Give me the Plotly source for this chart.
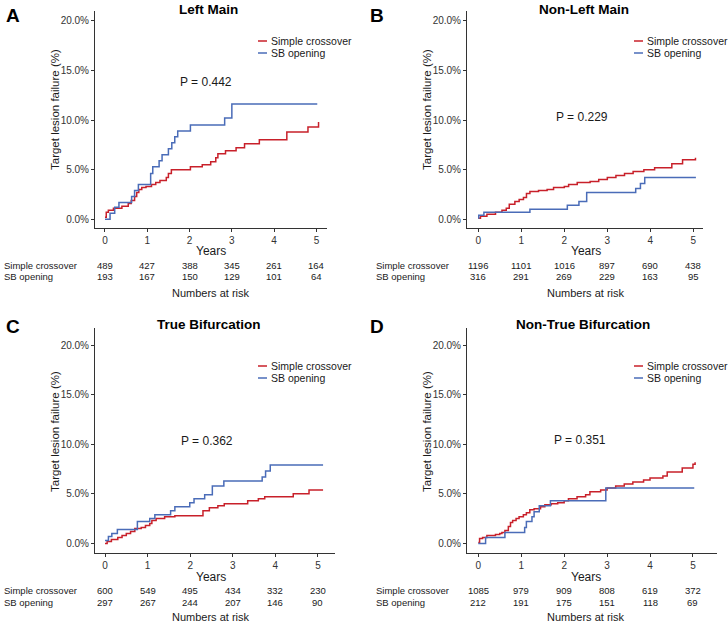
import plotly.graph_objects as go

W, H = 728, 623

# ---------------- data ----------------
panel_letters = ["A", "B", "C", "D"]
panel_titles = ["Left Main", "Non-Left Main", "True Bifurcation", "Non-True Bifurcation"]
p_values = ["P = 0.442", "P = 0.229", "P = 0.362", "P = 0.351"]
series_names = ["Simple crossover", "SB opening"]
x_ticks = [0, 1, 2, 3, 4, 5]
y_ticks = [0, 5, 10, 15, 20]
y_tick_labels = ["0.0%", "5.0%", "10.0%", "15.0%", "20.0%"]

a_sc_t = [0, 0.03, 0.08, 0.2, 0.4, 0.55, 0.62, 0.7, 0.75, 0.8, 0.87, 0.97, 1.1, 1.2, 1.3, 1.45, 1.5, 1.57,
          2.02, 2.3, 2.5, 2.62, 2.67, 2.85, 3.1, 3.3, 3.65, 4.3, 4.8, 5.05]
a_sc_v = [0.2, 0.7, 0.9, 1.1, 1.3, 1.6, 1.9, 2.3, 2.7, 3.0, 3.2, 3.3, 3.5, 3.7, 3.9, 4.2, 4.6, 5.0,
          5.3, 5.5, 5.8, 6.2, 6.6, 6.9, 7.2, 7.6, 8.0, 8.8, 9.3, 9.8]
a_sb_t = [0, 0.12, 0.23, 0.33, 0.63, 0.7, 0.79, 1.08, 1.13, 1.28, 1.35, 1.5, 1.58, 1.65, 1.72, 2.02, 2.83, 3.0, 5.02]
a_sb_v = [0, 0.6, 1.2, 1.7, 2.3, 2.9, 3.5, 4.6, 5.3, 5.9, 6.5, 7.1, 7.7, 8.3, 8.9, 9.5, 10.2, 11.6, 11.6]

b_sc_t = [0, 0.05, 0.2, 0.4, 0.55, 0.65, 0.72, 0.85, 0.95, 1.05, 1.12, 1.2, 1.4, 1.6, 1.75, 2.0, 2.1, 2.3,
          2.6, 2.8, 3.0, 3.2, 3.4, 3.6, 3.85, 4.1, 4.5, 4.75, 5.05]
b_sc_v = [0.1, 0.3, 0.5, 0.7, 0.9, 1.1, 1.5, 1.8, 2.0, 2.2, 2.6, 2.8, 2.9, 3.0, 3.2, 3.3, 3.5, 3.7,
          3.8, 4.0, 4.2, 4.4, 4.6, 4.8, 5.0, 5.2, 5.6, 6.0, 6.2]
b_sb_t = [0, 0.01, 0.13, 1.2, 2.07, 2.34, 2.52, 3.66, 3.77, 3.87, 5.06]
b_sb_v = [0.1, 0.4, 0.7, 1.0, 1.4, 1.8, 2.7, 3.1, 3.6, 4.2, 4.2]

c_sc_t = [0, 0.05, 0.15, 0.3, 0.4, 0.5, 0.6, 0.7, 0.85, 0.95, 1.05, 1.1, 1.2, 1.4, 1.64, 2.3, 2.45, 2.65,
          2.8, 3.35, 3.6, 3.75, 4.42, 4.79, 5.12]
c_sc_v = [0.0, 0.2, 0.4, 0.6, 0.8, 1.0, 1.2, 1.5, 1.6, 1.8, 2.0, 2.3, 2.5, 2.7, 2.8, 3.3, 3.6, 3.8,
          4.0, 4.3, 4.5, 4.7, 5.0, 5.4, 5.4]
c_sb_t = [0, 0.08, 0.16, 0.29, 0.76, 1.05, 1.17, 1.54, 1.64, 1.99, 2.09, 2.34, 2.52, 2.79, 3.69, 3.77, 3.88, 5.12]
c_sb_v = [0.3, 0.7, 1.0, 1.4, 2.2, 2.5, 2.9, 3.3, 3.7, 4.1, 4.5, 4.9, 5.8, 6.3, 6.7, 7.3, 7.9, 7.9]

d_sc_t = [0, 0.03, 0.1, 0.2, 0.4, 0.5, 0.55, 0.62, 0.7, 0.75, 0.8, 0.88, 0.95, 1.05, 1.12, 1.2, 1.3, 1.45,
          1.55, 1.7, 1.85, 2.0, 2.1, 2.3, 2.5, 2.6, 2.85, 3.0, 3.2, 3.4, 3.6, 3.85, 4.0, 4.3, 4.4, 4.75, 5.0, 5.05]
d_sc_v = [0.1, 0.5, 0.6, 0.8, 0.9, 1.0, 1.1, 1.3, 1.7, 2.1, 2.3, 2.5, 2.7, 2.9, 3.1, 3.4, 3.5, 3.7,
          3.9, 4.0, 4.1, 4.3, 4.5, 4.7, 4.9, 5.2, 5.4, 5.6, 5.8, 6.0, 6.2, 6.4, 6.6, 6.8, 7.2, 7.6, 8.0, 8.2]
d_sb_t = [0, 0.17, 0.62, 1.08, 1.12, 1.25, 1.3, 1.42, 1.68, 2.97, 5.03]
d_sb_v = [0.0, 0.6, 1.1, 1.6, 2.2, 2.7, 3.2, 3.8, 4.3, 5.6, 5.6]

a_risk_sc = [489, 427, 388, 345, 261, 164]
a_risk_sb = [193, 167, 150, 129, 101, 64]
b_risk_sc = [1196, 1101, 1016, 897, 690, 438]
b_risk_sb = [316, 291, 269, 229, 163, 95]
c_risk_sc = [600, 549, 495, 434, 332, 230]
c_risk_sb = [297, 267, 244, 207, 146, 90]
d_risk_sc = [1085, 979, 909, 808, 619, 372]
d_risk_sb = [212, 191, 175, 151, 118, 69]

curves = [
    ((a_sc_t, a_sc_v), (a_sb_t, a_sb_v)),
    ((b_sc_t, b_sc_v), (b_sb_t, b_sb_v)),
    ((c_sc_t, c_sc_v), (c_sb_t, c_sb_v)),
    ((d_sc_t, d_sc_v), (d_sb_t, d_sb_v)),
]
risks = [(a_risk_sc, a_risk_sb), (b_risk_sc, b_risk_sb), (c_risk_sc, c_risk_sb), (d_risk_sc, d_risk_sb)]

# ---------------- layout geometry (pixels) ----------------
RED = "#c8202a"
BLUE = "#4a6cb8"
FONT = "Liberation Sans, Arial, sans-serif"
TXT = "#1a1a1a"

geom = [
    dict(x0=95, x1=327, yt=11, yb=228, xr=[-0.236, 5.25], yr=[-0.88, 20.98], ox=0, oy=0),
    dict(x0=467, x1=703, yt=11, yb=228, xr=[-0.263, 5.225], yr=[-0.88, 20.98], ox=364, oy=0),
    dict(x0=95, x1=335, yt=328, yb=553, xr=[-0.235, 5.40], yr=[-0.97, 21.74], ox=0, oy=311),
    dict(x0=467, x1=717, yt=328, yb=553, xr=[-0.263, 5.56], yr=[-0.97, 21.74], ox=364, oy=311),
]
p_pos = [(2.4, 13.8), (2.4, 10.3), (2.4, 10.35), (2.36, 10.4)]


def px(x):
    return x / W


def py(y):
    return 1 - y / H


fig = go.Figure()
annotations = []
shapes = []

for i, g in enumerate(geom):
    n = "" if i == 0 else str(i + 1)
    xa, ya = "x" + n, "y" + n
    (sc_t, sc_v), (sb_t, sb_v) = curves[i]
    fig.add_trace(go.Scatter(x=sc_t, y=sc_v, mode="lines", line=dict(color=RED, width=1.5, shape="hv"),
                             name=series_names[0], showlegend=False, xaxis=xa, yaxis=ya))
    fig.add_trace(go.Scatter(x=sb_t, y=sb_v, mode="lines", line=dict(color=BLUE, width=1.5, shape="hv"),
                             name=series_names[1], showlegend=False, xaxis=xa, yaxis=ya))

    axis_common = dict(showline=True, linecolor="#333333", linewidth=1, showgrid=False, zeroline=False,
                       ticks="outside", ticklen=3, tickcolor="#333333",
                       tickfont=dict(family=FONT, size=10, color="#333333"))
    fig.layout["xaxis" + n] = dict(domain=[px(g["x0"]), px(g["x1"])], range=g["xr"], anchor=ya,
                                   tickvals=x_ticks, **axis_common)
    fig.layout["yaxis" + n] = dict(domain=[py(g["yb"]), py(g["yt"])], range=g["yr"], anchor=xa,
                                   tickvals=y_ticks, ticktext=y_tick_labels, **axis_common)

    ox, oy = g["ox"], g["oy"]
    # panel letter
    annotations.append(dict(text="<b>%s</b>" % panel_letters[i], x=px(ox + 4), y=py(oy + 15), xref="paper",
                            yref="paper", xanchor="left", yanchor="middle", showarrow=False,
                            font=dict(family=FONT, size=19, color="#000")))
    # title
    annotations.append(dict(text="<b>%s</b>" % panel_titles[i], x=2.45, xref=xa,
                            y=py(oy + 9 if oy == 0 else oy + 13),
                            yref="paper", xanchor="center", yanchor="middle", showarrow=False,
                            font=dict(family=FONT, size=13.5, color="#000")))
    # y title
    annotations.append(dict(text="Target lesion failure (%)", x=px(ox + (55 if ox == 0 else 63)),
                            y=py(oy + (110 if oy == 0 else 121)), xref="paper", yref="paper",
                            textangle=-90, xanchor="center", yanchor="middle", showarrow=False,
                            font=dict(family=FONT, size=11.5, color=TXT)))
    # P value
    annotations.append(dict(text=p_values[i], x=p_pos[i][0], y=p_pos[i][1], xref=xa, yref=ya,
                            showarrow=False, xanchor="center", yanchor="middle",
                            font=dict(family=FONT, size=12, color=TXT)))
    # legend
    leg_y = [oy + 41, oy + 53] if oy == 0 else [oy + 55, oy + 67]
    lx0 = ox + (258 if ox == 0 else 270)
    for k, (nm, col) in enumerate(zip(series_names, [RED, BLUE])):
        shapes.append(dict(type="line", xref="paper", yref="paper", x0=px(lx0), x1=px(lx0 + 9),
                           y0=py(leg_y[k]), y1=py(leg_y[k]), line=dict(color=col, width=1.5)))
        annotations.append(dict(text=nm, x=px(lx0 + 11), y=py(leg_y[k]), xref="paper", yref="paper",
                                xanchor="left", yanchor="middle", showarrow=False,
                                font=dict(family=FONT, size=10.5, color=TXT)))
    # Years label
    annotations.append(dict(text="Years", x=2.5, xref=xa, y=py(oy + (251 if oy == 0 else 266)), yref="paper",
                            showarrow=False, xanchor="center", yanchor="middle",
                            font=dict(family=FONT, size=12, color=TXT)))
    # risk table
    row_y = [oy + 265, oy + 276] if oy == 0 else [oy + 279, oy + 291]
    lab_x = ox + (2 if ox == 0 else 10)
    for k, nm in enumerate(series_names):
        annotations.append(dict(text=nm, x=px(lab_x), y=py(row_y[k]), xref="paper", yref="paper",
                                xanchor="left", yanchor="middle", showarrow=False,
                                font=dict(family=FONT, size=9.5, color=TXT)))
        for t, val in zip(x_ticks, risks[i][k]):
            annotations.append(dict(text=str(val), x=t, xref=xa, y=py(row_y[k]), yref="paper",
                                    xanchor="center", yanchor="middle", showarrow=False,
                                    font=dict(family=FONT, size=9.5, color=TXT)))
    annotations.append(dict(text="Numbers at risk", x=2.5, xref=xa, y=py(oy + (293 if oy == 0 else 306)),
                            yref="paper", showarrow=False, xanchor="center", yanchor="middle",
                            font=dict(family=FONT, size=11, color=TXT)))

fig.update_layout(width=W, height=H, margin=dict(l=0, r=0, t=0, b=0), paper_bgcolor="white",
                  plot_bgcolor="white", showlegend=False, annotations=annotations, shapes=shapes,
                  font=dict(family=FONT), hovermode=False)

# remove the browser's default 8px page margin so the figure sits at the window origin
fig.write_html("out.html", config={"displayModeBar": False, "staticPlot": True},
               post_script="document.body.style.margin='0';document.body.style.overflow='hidden';")
